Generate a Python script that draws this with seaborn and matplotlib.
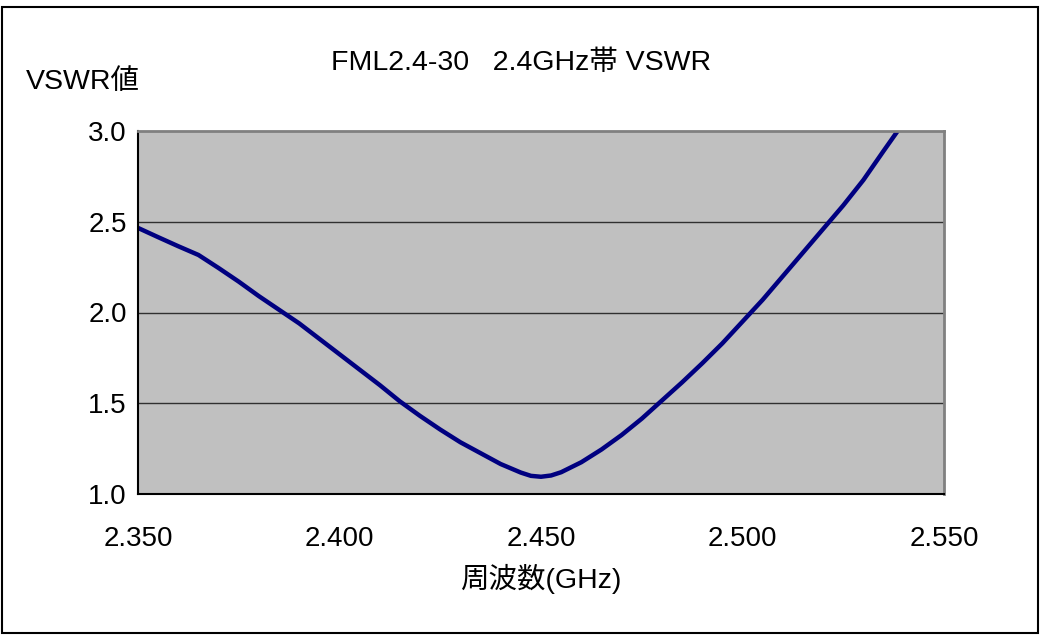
import pandas as pd
import seaborn as sns
import matplotlib.pyplot as plt
from matplotlib.patches import Rectangle

# VSWR
freq_ghz = [2.350, 2.355, 2.360, 2.365, 2.370, 2.375, 2.380, 2.385, 2.390, 2.395,
            2.400, 2.405, 2.410, 2.415, 2.420, 2.425, 2.430, 2.435, 2.440, 2.445,
            2.4475, 2.450, 2.4525, 2.455, 2.460, 2.465, 2.470, 2.475, 2.480, 2.485,
            2.490, 2.495, 2.500, 2.505, 2.510, 2.515, 2.520, 2.525, 2.530, 2.535,
            2.5385]
vswr = [2.466, 2.415, 2.365, 2.317, 2.245, 2.170, 2.090, 2.015, 1.940, 1.855,
        1.770, 1.685, 1.600, 1.510, 1.430, 1.355, 1.285, 1.225, 1.165, 1.118,
        1.100, 1.095, 1.102, 1.120, 1.175, 1.245, 1.325, 1.415, 1.515, 1.615,
        1.720, 1.830, 1.950, 2.070, 2.200, 2.330, 2.460, 2.590, 2.730, 2.890,
        3.000]

x_ticks = [2.35, 2.40, 2.45, 2.50, 2.55]
x_labels = ["2.350", "2.400", "2.450", "2.500", "2.550"]
y_ticks = [1.0, 1.5, 2.0, 2.5, 3.0]
y_labels = ["1.0", "1.5", "2.0", "2.5", "3.0"]

df = pd.DataFrame({"freq": freq_ghz, "vswr": vswr})

sns.set_style("white")
plt.rcParams['font.family'] = ['Liberation Sans', 'Noto Sans CJK JP', 'DejaVu Sans']
plt.rcParams['text.color'] = 'black'
plt.rcParams['xtick.color'] = 'black'
plt.rcParams['ytick.color'] = 'black'

fig = plt.figure(figsize=(10.41, 6.37), dpi=100)
ax = fig.add_axes([138 / 1041, 143 / 637, 806 / 1041, 363 / 637])
ax.set_facecolor("#C0C0C0")

sns.lineplot(data=df, x="freq", y="vswr", ax=ax, color="#000080", linewidth=3.2)

ax.set_xlim(2.35, 2.55)
ax.set_ylim(1.0, 3.0)
ax.set_xticks(x_ticks)
ax.set_xticklabels(x_labels, fontsize=20)
ax.set_yticks(y_ticks)
ax.set_yticklabels(y_labels, fontsize=20)
for y in [1.5, 2.0, 2.5]:
    ax.axhline(y, color="#303030", linewidth=1.0, zorder=1)

ax.tick_params(axis="x", direction="in", length=10, width=1, color="#202020",
               labelcolor="black", pad=23)
ax.tick_params(axis="y", direction="in", length=9, width=1, color="#505050",
               labelcolor="black", pad=8)
ax.set_xlabel("")
ax.set_ylabel("")

for side in ["left", "bottom"]:
    ax.spines[side].set_color("#000000")
    ax.spines[side].set_linewidth(1.5)
for side in ["top", "right"]:
    ax.spines[side].set_color("#808080")
    ax.spines[side].set_linewidth(2)

fig.text(521 / 1041, 1 - 63 / 637, "FML2.4-30   2.4GHz帯 VSWR", ha="center", va="center",
         fontsize=20.5, color="black")
fig.text(26 / 1041, 1 - 82 / 637, "VSWR値", ha="left", va="center", fontsize=20.5, color="black")
fig.text(541 / 1041, 1 - 579 / 637, "周波数(GHz)", ha="center", va="center", fontsize=20.5,
         color="black")

fig.patches.append(Rectangle((2 / 1041, 4 / 637), 1036 / 1041, 626 / 637,
                             transform=fig.transFigure, fill=False,
                             edgecolor="#000000", linewidth=1.5))

fig.savefig("out.png", dpi=100)
